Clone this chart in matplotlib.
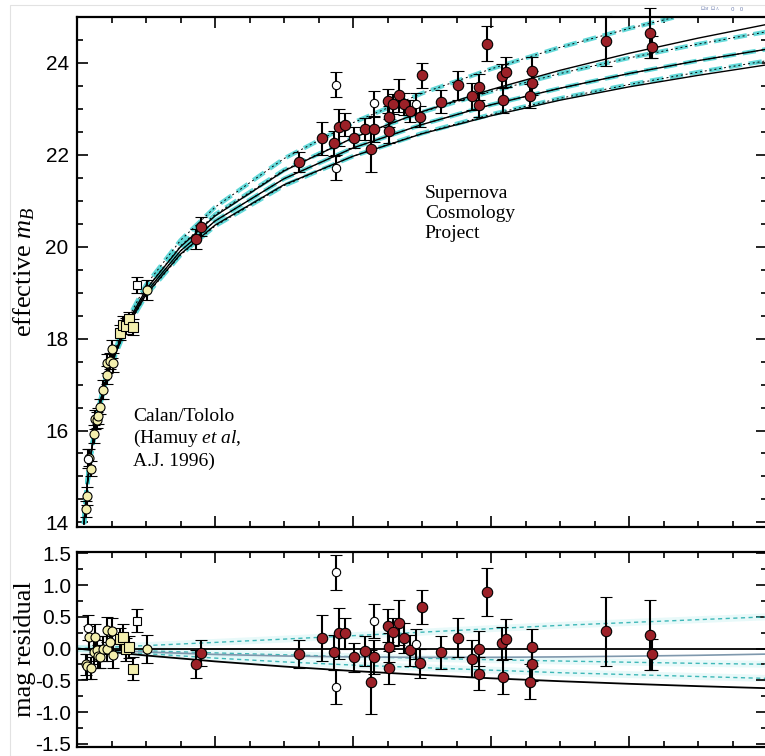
import numpy as np
import matplotlib
matplotlib.use("Agg")
import matplotlib.pyplot as plt
from matplotlib.ticker import MultipleLocator
from matplotlib.patches import Rectangle

plt.rcParams['mathtext.fontset'] = 'custom'
plt.rcParams['mathtext.rm'] = 'Liberation Serif'
plt.rcParams['mathtext.it'] = 'Liberation Serif:italic'
plt.rcParams['axes.unicode_minus'] = False

# ---- model curves (effective m_B vs z) ----
zc = [0.01, 0.015, 0.02, 0.03, 0.04, 0.05, 0.07, 0.1, 0.15, 0.2, 0.3, 0.4, 0.5, 0.6, 0.7, 0.8, 0.9, 1.0]
m_00 = [13.97, 14.86, 15.49, 16.38, 17.01, 17.51, 18.26, 19.07, 20.00, 20.67, 21.65, 22.37, 22.94, 23.42, 23.84, 24.21, 24.54, 24.84]
m_10 = [13.97, 14.85, 15.48, 16.37, 16.99, 17.48, 18.22, 19.01, 19.91, 20.56, 21.48, 22.15, 22.66, 23.09, 23.45, 23.77, 24.05, 24.30]
m_20 = [13.96, 14.84, 15.47, 16.35, 16.97, 17.46, 18.19, 18.96, 19.84, 20.47, 21.35, 21.97, 22.46, 22.85, 23.19, 23.48, 23.73, 23.96]
m_f01 = [13.98, 14.87, 15.51, 16.41, 17.06, 17.56, 18.33, 19.17, 20.14, 20.86, 21.92, 22.70, 23.34, 23.87, 24.34, 24.75, 25.12, 25.47]
m_f55 = [13.97, 14.86, 15.49, 16.39, 17.02, 17.52, 18.28, 19.08, 20.02, 20.70, 21.67, 22.37, 22.93, 23.38, 23.77, 24.11, 24.41, 24.68]
m_f15 = [13.96, 14.84, 15.46, 16.34, 16.96, 17.44, 18.17, 18.94, 19.82, 20.45, 21.33, 21.97, 22.47, 22.88, 23.23, 23.53, 23.80, 24.05]

# ---- residual curves ----
zr = [0.0, 0.05, 0.1, 0.2, 0.3, 0.4, 0.5, 0.6, 0.7, 0.8, 0.9, 1.0]
r_00 = [0, -0.028, -0.054, -0.092, -0.117, -0.132, -0.138, -0.138, -0.131, -0.120, -0.106, -0.087]
r_f01 = [0, 0.024, 0.047, 0.097, 0.149, 0.203, 0.258, 0.313, 0.365, 0.41, 0.455, 0.50]
r_f55 = [0, -0.016, -0.035, -0.068, -0.098, -0.127, -0.152, -0.176, -0.196, -0.215, -0.233, -0.247]
r_flo = [0, -0.04, -0.08, -0.15, -0.21, -0.26, -0.30, -0.34, -0.38, -0.41, -0.44, -0.47]
r_10 = [0, -0.055, -0.109, -0.202, -0.283, -0.353, -0.414, -0.468, -0.514, -0.555, -0.592, -0.624]

# ---- Calan/Tololo (yellow circles) ----
ct_z = [0.013, 0.015, 0.018, 0.020, 0.025, 0.026, 0.0285, 0.031, 0.034, 0.038, 0.043, 0.044, 0.048, 0.050, 0.052, 0.101]
ct_m = [14.29, 14.57, 15.41, 15.17, 15.92, 16.24, 16.23, 16.32, 16.52, 16.89, 17.46, 17.21, 17.51, 17.78, 17.48, 19.06]
ct_res = [-0.25, -0.28, 0.18, -0.31, -0.05, 0.18, -0.03, -0.12, -0.13, 0.00, 0.30, 0.00, 0.10, 0.28, -0.10, -0.01]
ct_err = [0.17, 0.20, 0.18, 0.17, 0.20, 0.20, 0.17, 0.18, 0.17, 0.20, 0.20, 0.20, 0.18, 0.20, 0.20, 0.22]
# yellow squares
sq_z = [0.062, 0.066, 0.071, 0.075, 0.081]
sq_m = [18.13, 18.29, 18.27, 18.42, 18.25]
sq_res = [0.15, 0.18, -0.01, 0.02, -0.32]
sq_err = [0.17, 0.20, 0.18, 0.17, 0.18]
# excluded low-z (open)
exlo_z = [0.0165, 0.087]
exlo_m = [15.39, 19.17]
exlo_res = [0.33, 0.44]
exlo_err = [0.20, 0.18]

# ---- Supernova Cosmology Project (red) ----
scp_z = [0.173, 0.180, 0.321, 0.355, 0.372, 0.380, 0.389, 0.402, 0.418, 0.426, 0.431, 0.451, 0.452, 0.452,
         0.458, 0.466, 0.474, 0.482, 0.497, 0.500, 0.528, 0.552, 0.572, 0.582, 0.583, 0.594, 0.616, 0.621,
         0.617, 0.659, 0.659, 0.657, 0.766, 0.831, 0.833]
scp_m = [20.17, 20.44, 21.85, 22.36, 22.25, 22.60, 22.66, 22.37, 22.57, 22.13, 22.56, 23.17, 22.83, 22.52,
         23.11, 23.30, 23.11, 22.95, 22.83, 23.73, 23.16, 23.51, 23.27, 23.48, 23.08, 24.42, 23.71, 23.80,
         23.19, 23.83, 23.56, 23.28, 24.48, 24.65, 24.34]
scp_res = [-0.24, -0.07, -0.08, 0.17, -0.06, 0.24, 0.24, -0.14, -0.04, -0.53, -0.13, 0.36, 0.02, -0.30,
           0.26, 0.41, 0.17, -0.03, -0.23, 0.65, -0.06, 0.17, -0.16, 0.00, -0.40, 0.89, 0.08, 0.15,
           -0.44, 0.02, -0.25, -0.52, 0.27, 0.22, -0.09]
scp_err = [0.22, 0.20, 0.22, 0.36, 0.27, 0.40, 0.24, 0.23, 0.24, 0.50, 0.27, 0.26, 0.23, 0.26,
           0.22, 0.36, 0.24, 0.24, 0.23, 0.27, 0.26, 0.31, 0.29, 0.28, 0.26, 0.38, 0.26, 0.32,
           0.28, 0.29, 0.26, 0.27, 0.54, 0.55, 0.24]
# excluded high-z (open circles)
ex_z = [0.375, 0.375, 0.431, 0.491]
ex_m = [23.53, 21.72, 23.12, 23.10]
ex_res = [1.20, -0.61, 0.43, 0.07]
ex_err = [0.27, 0.27, 0.27, 0.24]

RED = '#9c2128'
YEL = '#f3efae'
CYAN = '#48d2d2'

fig = plt.figure(figsize=(7.65, 7.56), dpi=100)
ax = fig.add_axes([0.1007, 0.3029, 0.902, 0.6746])
ax2 = fig.add_axes([0.1007, 0.0119, 0.902, 0.2579])

eb = dict(ecolor='k', elinewidth=1.5, capsize=4, capthick=1.7, mec='k', mew=0.8,
          linestyle='none', zorder=5, clip_on=False)

# top panel curves
for mm in [m_f01, m_f55, m_10, m_f15]:
    ax.plot(zc, mm, color=CYAN, lw=3.2, ls=(0, (3, 1.5)), alpha=0.85, zorder=2)
    ax.plot(zc, mm, color='k', lw=0.7, ls=(0, (2, 3)), zorder=3)
for mm in [m_00, m_10, m_20]:
    ax.plot(zc, mm, color='k', lw=1.0, zorder=3)

ax.errorbar(ct_z, ct_m, yerr=ct_err, fmt='o', ms=6.5, mfc=YEL, **eb)
ax.errorbar(sq_z, sq_m, yerr=sq_err, fmt='s', ms=6.5, mfc=YEL, **eb)
ax.errorbar(exlo_z[:1], exlo_m[:1], yerr=exlo_err[:1], fmt='o', ms=6, mfc='white', **eb)
ax.errorbar(exlo_z[1:], exlo_m[1:], yerr=exlo_err[1:], fmt='s', ms=6, mfc='white', **eb)
ax.errorbar(scp_z, scp_m, yerr=scp_err, fmt='o', ms=7.5, mfc=RED, **eb)
ax.errorbar(ex_z, ex_m, yerr=ex_err, fmt='o', ms=6, mfc='white', **eb)

ax.set_xlim(0, 1.0)
ax.set_ylim(13.9, 25.0)
ax.yaxis.set_major_locator(MultipleLocator(2))
ax.yaxis.set_minor_locator(MultipleLocator(0.5))

ax.text(0.081, 16.5, 'Calan/Tololo\n(Hamuy $\\mathit{et\\ al}$,\nA.J. 1996)', family='Liberation Serif',
        fontsize=14, va='top', ha='left', linespacing=1.25)
ax.text(0.504, 21.35, 'Supernova\nCosmology\nProject', family='Liberation Serif',
        fontsize=14, va='top', ha='left', linespacing=1.25)
ax.set_ylabel('effective $m_B$', family='Liberation Serif', fontsize=19)
ax.yaxis.set_label_coords(-0.058, 0.5)

# residual panel
for rr in [r_f01, r_f55, r_flo]:
    ax2.plot(zr, rr, color=CYAN, lw=5, alpha=0.12, zorder=1)
    ax2.plot(zr, rr, color='#3fb8b8', lw=1.0, ls=(0, (3, 2.5)), zorder=2)
ax2.plot(zr, r_00, color='#7f98ad', lw=1.2, zorder=2)
ax2.axhline(0, color='k', lw=1.3, zorder=3)
ax2.plot(zr, r_10, color='k', lw=1.3, zorder=3)

ax2.errorbar(ct_z, ct_res, yerr=ct_err, fmt='o', ms=6.5, mfc=YEL, **eb)
ax2.errorbar(sq_z, sq_res, yerr=sq_err, fmt='s', ms=6.5, mfc=YEL, **eb)
ax2.errorbar(exlo_z[:1], exlo_res[:1], yerr=exlo_err[:1], fmt='o', ms=6, mfc='white', **eb)
ax2.errorbar(exlo_z[1:], exlo_res[1:], yerr=exlo_err[1:], fmt='s', ms=6, mfc='white', **eb)
ax2.errorbar(scp_z, scp_res, yerr=scp_err, fmt='o', ms=7.5, mfc=RED, **eb)
ax2.errorbar(ex_z, ex_res, yerr=ex_err, fmt='o', ms=6, mfc='white', **eb)

ax2.set_xlim(0, 1.0)
ax2.set_ylim(-1.55, 1.52)
ax2.yaxis.set_major_locator(MultipleLocator(0.5))
ax2.yaxis.set_minor_locator(MultipleLocator(0.25))
ax2.set_ylabel('mag residual', family='Liberation Serif', fontsize=19)
ax2.yaxis.set_label_coords(-0.060, 0.5)

for a in (ax, ax2):
    a.xaxis.set_major_locator(MultipleLocator(0.2))
    a.xaxis.set_minor_locator(MultipleLocator(0.05))
    a.tick_params(which='both', direction='in', top=True, right=True, labelbottom=False, width=1.2)
    a.tick_params(which='major', length=8, labelsize=15, pad=6)
    a.tick_params(which='minor', length=4.5)
    for s in a.spines.values():
        s.set_linewidth(1.6)
    for lab in a.get_yticklabels():
        lab.set_family('Liberation Sans')

ax2.tick_params(which='major', pad=4)

fig.text(0.915, 0.986, '$\\Omega_M$  $\\Omega_\\Lambda$', fontsize=4, color='#7080b0')
fig.text(0.955, 0.986, '0   0', fontsize=4, color='#7080b0')
fig.patches.append(Rectangle((0.013, 0.0), 0.99, 0.994, transform=fig.transFigure,
                             fill=False, ec='#e2e2e2', lw=0.8))

fig.savefig('out.png', dpi=100, facecolor='white')
